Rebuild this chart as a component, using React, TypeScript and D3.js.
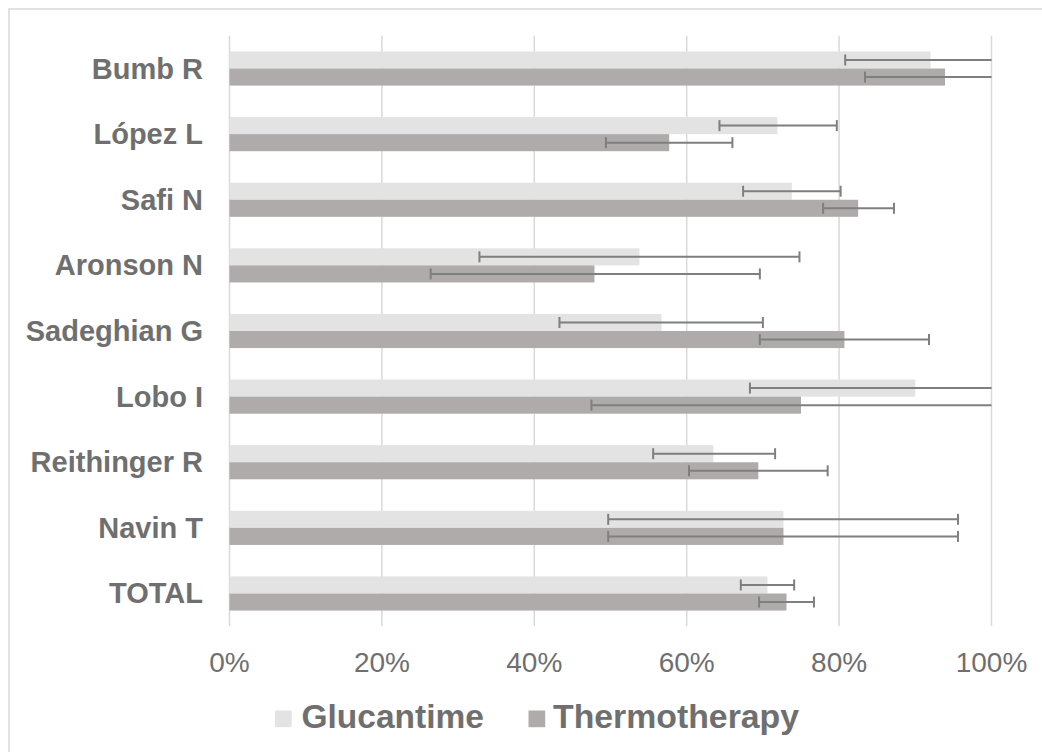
import React from "react";
import * as d3 from "d3";

const categories = ["Bumb R", "López L", "Safi N", "Aronson N", "Sadeghian G", "Lobo I", "Reithinger R", "Navin T", "TOTAL"];
const seriesNames = ["Glucantime", "Thermotherapy"];
const glucantime = [92.0, 71.9, 73.8, 53.8, 56.7, 90.0, 63.5, 72.7, 70.6];
const glucantimeLow = [80.8, 64.3, 67.4, 32.8, 43.3, 68.3, 55.6, 49.7, 67.1];
const glucantimeHigh = [100, 79.7, 80.2, 74.8, 70.0, 100, 71.6, 95.6, 74.1];
const thermotherapy = [93.9, 57.7, 82.5, 47.9, 80.7, 75.0, 69.4, 72.7, 73.1];
const thermotherapyLow = [83.4, 49.4, 77.9, 26.4, 69.6, 47.5, 60.3, 49.7, 69.5];
const thermotherapyHigh = [100, 66.0, 87.2, 69.6, 91.8, 100, 78.5, 95.6, 76.7];
const ticks = [0, 20, 40, 60, 80, 100];

const W = 1042;
const H = 752;
const FONT = "'Liberation Sans', Arial, sans-serif";
const colors = ["#e3e3e3", "#afabab"];

export default function App() {
  const x = d3.scaleLinear().domain([0, 100]).range([229.5, 991.5]);
  const y = d3
    .scaleBand<string>()
    .domain(categories)
    .range([35.7, 626.3])
    .paddingInner(0.48)
    .paddingOuter(0.24);
  const sub = d3.scaleBand<string>().domain(seriesNames).range([0, y.bandwidth()]).padding(0);

  const series = [
    { name: seriesNames[0], v: glucantime, lo: glucantimeLow, hi: glucantimeHigh, color: colors[0] },
    { name: seriesNames[1], v: thermotherapy, lo: thermotherapyLow, hi: thermotherapyHigh, color: colors[1] },
  ];

  const capH = 11;

  return (
    <svg
      width={W}
      height={H}
      style={{ position: "absolute", left: 0, top: 0, background: "#fff" }}
      fontFamily={FONT}
    >
      <rect x={9} y={9} width={W} height={H} fill="#fff" stroke="#d9d9d9" strokeWidth={1.5} />
      {ticks.map((t) => (
        <line key={t} x1={x(t)} x2={x(t)} y1={35.7} y2={626.3} stroke="#d9d9d9" strokeWidth={1.5} />
      ))}
      {series.map((s) =>
        categories.map((c, i) => (
          <rect
            key={s.name + c}
            x={x(0)}
            y={(y(c) as number) + (sub(s.name) as number)}
            width={x(s.v[i]) - x(0)}
            height={sub.bandwidth()}
            fill={s.color}
          />
        ))
      )}
      {series.map((s) =>
        categories.map((c, i) => {
          const cy = (y(c) as number) + (sub(s.name) as number) + sub.bandwidth() / 2;
          return (
            <g key={"e" + s.name + c} stroke="#7f7f7f" strokeWidth={2}>
              <line x1={x(s.lo[i])} x2={x(s.hi[i])} y1={cy} y2={cy} />
              <line x1={x(s.lo[i])} x2={x(s.lo[i])} y1={cy - capH / 2} y2={cy + capH / 2} />
              {s.hi[i] < 100 && (
                <line x1={x(s.hi[i])} x2={x(s.hi[i])} y1={cy - capH / 2} y2={cy + capH / 2} />
              )}
            </g>
          );
        })
      )}
      {categories.map((c) => (
        <text
          key={"l" + c}
          x={203}
          y={(y(c) as number) + y.bandwidth() / 2 + 10}
          textAnchor="end"
          fontSize={29}
          fontWeight="bold"
          fill="#6f6f6f"
        >
          {c}
        </text>
      ))}
      {ticks.map((t) => (
        <text key={"t" + t} x={x(t)} y={672} textAnchor="middle" fontSize={28} fill="#6f6f6f">
          {t + "%"}
        </text>
      ))}
      <rect x={275} y={710.5} width={16.7} height={16.7} fill={colors[0]} />
      <text x={301.5} y={728} fontSize={33.5} fontWeight="bold" fill="#6f6f6f">
        {seriesNames[0]}
      </text>
      <rect x={528.5} y={710.5} width={16.7} height={16.7} fill={colors[1]} />
      <text x={553} y={728} fontSize={33.8} fontWeight="bold" fill="#6f6f6f">
        {seriesNames[1]}
      </text>
    </svg>
  );
}
